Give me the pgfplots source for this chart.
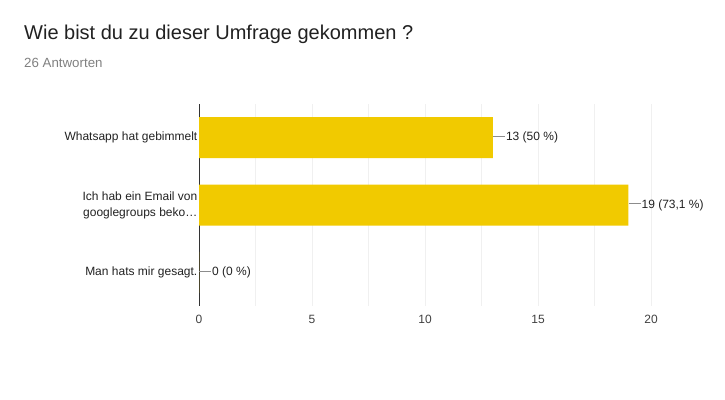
\documentclass[border=0pt]{standalone}
\usepackage{fontspec}
\setmainfont{Liberation Sans}
\usepackage{pgfplots}
\pgfplotsset{compat=1.18}
\definecolor{baryellow}{RGB}{241,202,0}
\definecolor{gridc}{RGB}{240,240,240}
\definecolor{txt}{RGB}{33,33,33}
\begin{document}
\begin{tikzpicture}
\path[use as bounding box] (0pt,0pt) rectangle (725pt,399pt);
\node[anchor=base west,inner sep=0pt,font=\fontsize{20}{24}\selectfont,text=txt] at (24pt,359pt) {Wie bist du zu dieser Umfrage gekommen ?};
\node[anchor=base west,inner sep=0pt,font=\fontsize{13.3}{16}\selectfont,text=black!50] at (24pt,331pt) {26 Antworten};
\begin{axis}[at={(199pt,93pt)},anchor=south west, scale only axis, width=452pt, height=202pt,
  xbar, bar width=41pt,
  xmin=0, xmax=20, ymin=-0.5, ymax=2.5, y dir=reverse,
  axis x line*=bottom, axis y line*=left,
  x axis line style={draw=none},
  y axis line style={draw=black!80, line width=0.8pt},
  xtick={0,5,10,15,20}, minor xtick={2.5,7.5,12.5,17.5},
  xmajorgrids, xminorgrids,
  major grid style={draw=gridc, line width=0.8pt},
  minor grid style={draw=gridc, line width=0.8pt},
  major tick length=0pt, minor tick length=0pt,
  ytick={0,1,2},
  yticklabels={Whatsapp hat gebimmelt, {Ich hab ein Email von\\googlegroups beko…}, Man hats mir gesagt.},
  yticklabel style={align=right, inner xsep=1.5pt, font=\fontsize{12}{16}\selectfont, text=txt},
  xticklabel style={font=\fontsize{12}{14}\selectfont, text=black!75, yshift=-6pt},
  /pgf/number format/assume math mode=true,
  point meta=explicit symbolic,
  nodes near coords={\textcolor{black!45}{\rule[0.33em]{12pt}{0.7pt}}\hspace{1pt}\pgfplotspointmeta},
  nodes near coords style={anchor=west, inner xsep=0pt, font=\fontsize{12}{14}\selectfont, text=txt},
]
\addplot[fill=baryellow, draw=none] coordinates {
  (13,0) [13 (50 \%)]
  (19,1) [19 (73,1 \%)]
  (0,2) [0 (0 \%)]
};
\end{axis}
\end{tikzpicture}
\end{document}
